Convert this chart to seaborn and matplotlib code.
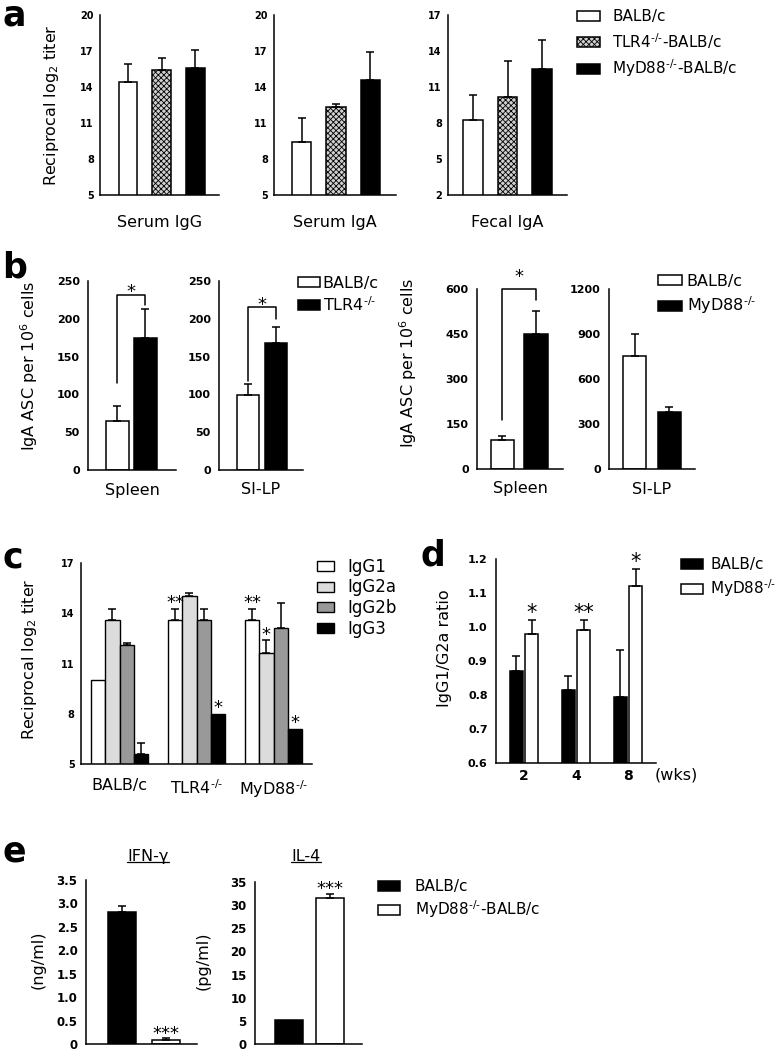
import numpy as np
import pandas as pd
import matplotlib
matplotlib.use("Agg")
import matplotlib.pyplot as plt
import seaborn as sns
from matplotlib.patches import Patch
from matplotlib.lines import Line2D
from matplotlib.transforms import IdentityTransform

# superindice "-/-" con guiones cortos
KO = "$^{\u2010/\u2010}$"

# ---------------- datos ----------------
# a: titulos (log2 reciproco), media y error
grupos_a = ["BALB/c", "TLR4", "MyD88"]
nombres_a = ["BALB/c", "TLR4" + KO + "-BALB/c", "MyD88" + KO + "-BALB/c"]
muestras_a = ["Serum IgG", "Serum IgA", "Fecal IgA"]
serum_igg_a = [14.45, 15.45, 15.6]
serum_iga_a = [9.4, 12.3, 14.6]
fecal_iga_a = [8.25, 10.2, 12.5]
err_serum_igg_a = [1.45, 1.0, 1.45]
err_serum_iga_a = [2.05, 0.3, 2.35]
err_fecal_iga_a = [2.1, 3.0, 2.45]
yticks_a1 = [5, 8, 11, 14, 17, 20]
yticks_a3 = [2, 5, 8, 11, 14, 17]

# b: IgA ASC por 10^6 celulas
grupos_b = ["BALB/c", "KO"]
organos_b = ["Spleen", "SI-LP", "Spleen", "SI-LP"]
spleen_tlr4 = [65, 175]
silp_tlr4 = [99, 168]
spleen_myd = [98, 449]
silp_myd = [751, 379]
err_spleen_tlr4 = [20, 38]
err_silp_tlr4 = [15, 21]
err_spleen_myd = [11, 78]
err_silp_myd = [149, 33]
yticks_b_tlr4 = [0, 50, 100, 150, 200, 250]
yticks_b_spleen_myd = [0, 150, 300, 450, 600]
yticks_b_silp_myd = [0, 300, 600, 900, 1200]
# corchetes: (nivel, pie izquierdo, pie derecho, altura del asterisco)
corchetes_b = [(232, 115, 218, 243), (215, 118, 200, 225), (599, 162, 563, 658), None]

# c: subclases IgG
cepas_c = ["BALB/c", "TLR4" + KO, "MyD88" + KO]
isotipos_c = ["IgG1", "IgG2a", "IgG2b", "IgG3"]
igg1_c = [10.0, 13.6, 13.6]
igg2a_c = [13.6, 15.05, 11.6]
igg2b_c = [12.1, 13.6, 13.1]
igg3_c = [5.6, 8.0, 7.1]
err_igg1_c = [0, 0.67, 0.67]
err_igg2a_c = [0.67, 0.13, 0.78]
err_igg2b_c = [0.12, 0.67, 1.5]
err_igg3_c = [0.68, 0, 0]
estrellas_c = [(1, 0, "**"), (1, 3, "*"), (2, 0, "**"), (2, 1, "*"), (2, 3, "*")]
yticks_c = [5, 8, 11, 14, 17]

# d: cociente IgG1/G2a
semanas_d = ["2", "4", "8"]
balb_d = [0.87, 0.815, 0.795]
myd_d = [0.98, 0.99, 1.12]
err_balb_d = [0.045, 0.04, 0.137]
err_myd_d = [0.04, 0.03, 0.05]
estrellas_d = ["*", "**", "*"]
yticks_d = [0.6, 0.7, 0.8, 0.9, 1.0, 1.1, 1.2]

# e: citoquinas
grupos_e = ["BALB/c", "MyD88"]
ifn_e = [2.82, 0.085]
il4_e = [5.25, 31.6]
err_ifn_e = [0.125, 0.035]
err_il4_e = [0.0, 0.9]
yticks_e1 = [0, 0.5, 1.0, 1.5, 2.0, 2.5, 3.0, 3.5]
ylabels_e1 = ["0", "0.5", "1.0", "1.5", "2.0", "2.5", "3.0", "3.5"]
yticks_e2 = [0, 5, 10, 15, 20, 25, 30, 35]

# ---------------- figura ----------------
sns.set_style("white")
plt.rcParams["font.family"] = ["DejaVu Sans"]
plt.rcParams["hatch.linewidth"] = 0.6
plt.rcParams["mathtext.fontset"] = "dejavusans"
for clave in ["text.color", "axes.labelcolor", "xtick.color", "ytick.color", "axes.edgecolor"]:
    plt.rcParams[clave] = "black"

W, H = 784, 1050
fig = plt.figure(figsize=(W / 100, H / 100), dpi=100)

GRIS_TLR4 = "#d0d0d0"
TRAMA = "xxxxxx"


def eje(x0, y0, x1, y1):
    return fig.add_axes([x0 / W, 1 - y1 / H, (x1 - x0) / W, (y1 - y0) / H])


def texto(x, y, s, **kw):
    return fig.text(x / W, 1 - y / H, s, **kw)


def formato(ax, yticks, ylabels, tam):
    ax.set_ylim(yticks[0], yticks[-1])
    ax.set_yticks(yticks)
    ax.set_yticklabels(ylabels, fontweight="bold", fontsize=tam)
    ax.set_xlabel("")
    ax.set_ylabel("")
    for lado in ["top", "right"]:
        ax.spines[lado].set_visible(False)
    for lado in ["left", "bottom"]:
        ax.spines[lado].set_linewidth(1.1)
        ax.spines[lado].set_color("black")
    ax.tick_params(axis="y", direction="out", length=3, width=1.1, pad=1.5, colors="black")
    ax.tick_params(axis="x", which="major", direction="out", length=3, width=1.1, colors="black")
    ax.set_facecolor("none")


def bordes_x(ax, xlim):
    ax.set_xlim(*xlim)
    ax.set_xticks(list(xlim))
    ax.set_xticklabels([])


def errores(ax, xs, medias, errs):
    xs = np.asarray(xs, float)
    medias = np.asarray(medias, float)
    errs = np.asarray(errs, float)
    m = errs > 0
    ax.errorbar(xs[m], medias[m], yerr=[np.zeros(m.sum()), errs[m]], fmt="none",
                ecolor="black", elinewidth=1.1, capsize=3, capthick=1.1, zorder=3)


def categoria(ax, s, abajo_px):
    ax.annotate(s, xy=(0.5, 0), xycoords="axes fraction", xytext=(0, -abajo_px * 0.72),
                textcoords="offset points", ha="center", va="center", fontsize=11.5)


def estrella(ax, x, y, s, tam, sube_px):
    ax.annotate(s, xy=(x, y), xytext=(0, sube_px * 0.72 - 0.57 * tam), textcoords="offset points",
                ha="center", va="baseline", fontsize=tam, annotation_clip=False)


def leyenda(handles, labels, x, y, tam, hl, hh, pad, sep):
    fig.legend(handles, labels, loc="upper left", bbox_to_anchor=(x / W, 1 - y / H),
               frameon=False, fontsize=tam, handlelength=hl, handleheight=hh,
               handletextpad=pad, labelspacing=sep, borderpad=0, borderaxespad=0)


# ---------------- a ----------------
colores_a = {"BALB/c": "white", "TLR4": GRIS_TLR4, "MyD88": "black"}
medias_a = [serum_igg_a, serum_iga_a, fecal_iga_a]
errs_a = [err_serum_igg_a, err_serum_iga_a, err_fecal_iga_a]
cajas_a = [(100, 219), (274, 396), (448, 567)]
xlims_a = [(-0.83, 2.70), (-0.80, 2.74), (-0.72, 2.72)]
for i in range(3):
    ax = eje(cajas_a[i][0], 15, cajas_a[i][1], 195)
    df = pd.DataFrame({"grupo": grupos_a, "valor": medias_a[i]})
    sns.barplot(data=df, x="grupo", y="valor", hue="grupo", order=grupos_a, hue_order=grupos_a,
                palette=colores_a, saturation=1, width=0.56, edgecolor="black", linewidth=1.1,
                errorbar=None, legend=False, ax=ax)
    for p in ax.patches:
        if abs(p.get_x() + p.get_width() / 2 - 1) < 0.01:
            p.set_hatch(TRAMA)
    errores(ax, range(3), medias_a[i], errs_a[i])
    yt = yticks_a3 if i == 2 else yticks_a1
    formato(ax, yt, [str(v) for v in yt], 7)
    bordes_x(ax, xlims_a[i])
    categoria(ax, muestras_a[i], 28)

texto(52, 105, r"Reciprocal log$_2$ titer", rotation=90, ha="center", va="center", fontsize=11.5)
h_a = [Patch(facecolor="white", edgecolor="black", linewidth=1.1),
       Patch(facecolor=GRIS_TLR4, edgecolor="black", linewidth=1.1, hatch=TRAMA),
       Patch(facecolor="black", edgecolor="black", linewidth=1.1)]
leyenda(h_a, nombres_a, 577, 9, 11, 1.5, 0.65, 0.8, 0.45)

# ---------------- b ----------------
colores_b = {"BALB/c": "white", "KO": "black"}
medias_b = [spleen_tlr4, silp_tlr4, spleen_myd, silp_myd]
errs_b = [err_spleen_tlr4, err_silp_tlr4, err_spleen_myd, err_silp_myd]
yticks_b = [yticks_b_tlr4, yticks_b_tlr4, yticks_b_spleen_myd, yticks_b_silp_myd]
cajas_b = [(88, 281, 176, 470), (219, 281, 303, 470), (477, 289, 563, 469), (609, 289, 695, 469)]
xlims_b = [(-1.05, 2.09), (-1.04, 1.96), (-0.76, 1.81), (-0.73, 1.73)]
anchos_b = [0.82, 0.8, 0.7, 0.67]
for i in range(4):
    ax = eje(*cajas_b[i])
    df = pd.DataFrame({"grupo": grupos_b, "valor": medias_b[i]})
    sns.barplot(data=df, x="grupo", y="valor", hue="grupo", order=grupos_b, hue_order=grupos_b,
                palette=colores_b, saturation=1, width=anchos_b[i], edgecolor="black", linewidth=1.1,
                errorbar=None, legend=False, ax=ax)
    errores(ax, range(2), medias_b[i], errs_b[i])
    formato(ax, yticks_b[i], [str(v) for v in yticks_b[i]], 8)
    ax.tick_params(axis="y", pad=3)
    bordes_x(ax, xlims_b[i])
    categoria(ax, organos_b[i], 20)
    if corchetes_b[i] is not None:
        nivel, izq, der, alto = corchetes_b[i]
        ax.plot([0, 0, 1, 1], [izq, nivel, nivel, der], color="black", lw=1.1, clip_on=False)
        estrella(ax, 0.5, alto, "*", 13, 0)

texto(29, 366, r"IgA ASC per 10$^6$ cells", rotation=90, ha="center", va="center", fontsize=11.5)
texto(408, 363, r"IgA ASC per 10$^6$ cells", rotation=90, ha="center", va="center", fontsize=11.5)
h_b = [Patch(facecolor="white", edgecolor="black", linewidth=1.1),
       Patch(facecolor="black", edgecolor="black", linewidth=1.1)]
leyenda(h_b, ["BALB/c", "TLR4" + KO], 298, 276, 11.5, 1.4, 0.6, 0.15, 0.25)
leyenda(h_b, ["BALB/c", "MyD88" + KO], 658, 274, 11.5, 1.5, 0.6, 0.3, 0.35)

# ---------------- c ----------------
colores_c = {"IgG1": "white", "IgG2a": "#dcdcdc", "IgG2b": "#999999", "IgG3": "black"}
valores_c = [igg1_c, igg2a_c, igg2b_c, igg3_c]
errs_c = [err_igg1_c, err_igg2a_c, err_igg2b_c, err_igg3_c]
filas = []
for iso, vals in zip(isotipos_c, valores_c):
    for cepa, v in zip(cepas_c, vals):
        filas.append({"cepa": cepa, "isotipo": iso, "valor": v})
df_c = pd.DataFrame(filas)

ax = eje(81, 563, 312, 764)
ancho_c = 0.745
sns.barplot(data=df_c, x="cepa", y="valor", hue="isotipo", order=cepas_c, hue_order=isotipos_c,
            palette=colores_c, saturation=1, width=ancho_c, edgecolor="black", linewidth=1.0,
            errorbar=None, legend=False, ax=ax)
paso_c = ancho_c / 4
for j in range(4):
    xs = np.arange(3) + (j - 1.5) * paso_c
    errores(ax, xs, valores_c[j], errs_c[j])
for k, j, s in estrellas_c:
    x = k + (j - 1.5) * paso_c
    estrella(ax, x, valores_c[j][k] + errs_c[j][k], s, 13, 11)
formato(ax, yticks_c, [str(v) for v in yticks_c], 7)
ax.set_xlim(-0.5, 2.5)
ax.set_xticks([-0.5, 0.5, 1.5, 2.5])
ax.set_xticklabels([])
ax.set_xticks([0, 1, 2], minor=True)
ax.set_xticklabels(cepas_c, minor=True, fontsize=11.5)
ax.tick_params(axis="x", which="minor", length=0, pad=10)
texto(30, 659, r"Reciprocal log$_2$ titer", rotation=90, ha="center", va="center", fontsize=11.5)
h_c = [Patch(facecolor=colores_c[k], edgecolor="black", linewidth=1.0) for k in isotipos_c]
leyenda(h_c, isotipos_c, 317, 558, 12, 1.0, 0.55, 0.85, 0.15)

# ---------------- d ----------------
filas = []
for cepa, vals in zip(["BALB/c", "MyD88"], [balb_d, myd_d]):
    for sem, v in zip(semanas_d, vals):
        filas.append({"semana": sem, "cepa": cepa, "valor": v})
df_d = pd.DataFrame(filas)

ax = eje(496, 559, 656, 763)
sns.barplot(data=df_d, x="semana", y="valor", hue="cepa", order=semanas_d,
            hue_order=["BALB/c", "MyD88"], palette={"BALB/c": "black", "MyD88": "white"},
            saturation=1, width=0.6, gap=0.15, edgecolor="black", linewidth=1.1,
            errorbar=None, legend=False, ax=ax)
errores(ax, np.arange(3) - 0.15, balb_d, err_balb_d)
errores(ax, np.arange(3) + 0.15, myd_d, err_myd_d)
for k, s in enumerate(estrellas_d):
    estrella(ax, k + 0.15, myd_d[k] + err_myd_d[k], s, 15, 13)
formato(ax, yticks_d, [f"{v:.1f}" for v in yticks_d], 8)
ax.tick_params(axis="y", pad=3)
ax.set_xlim(-0.54, 2.54)
ax.set_xticks([-0.54, 0.5, 1.5, 2.54])
ax.set_xticklabels([])
ax.set_xticks([0, 1, 2], minor=True)
ax.set_xticklabels(semanas_d, minor=True, fontsize=10, fontweight="bold")
ax.tick_params(axis="x", which="minor", length=0, pad=4)
texto(676, 775, "(wks)", ha="center", va="center", fontsize=11.5)
texto(445, 648, "IgG1/G2a ratio", rotation=90, ha="center", va="center", fontsize=11.5)
h_d = [Patch(facecolor="black", edgecolor="black", linewidth=1.1),
       Patch(facecolor="white", edgecolor="black", linewidth=1.1)]
leyenda(h_d, ["BALB/c", "MyD88" + KO], 681, 557, 11, 1.45, 0.65, 0.45, 0.35)

# ---------------- e ----------------
colores_e = {"BALB/c": "black", "MyD88": "white"}
paneles_e = [(ifn_e, err_ifn_e, (86, 880, 197, 1044), (-0.82, 1.70), 0.64, yticks_e1, ylabels_e1),
             (il4_e, err_il4_e, (255, 882, 362, 1044), (-0.83, 1.78), 0.68, yticks_e2,
              [str(v) for v in yticks_e2])]
for vals, errs, caja, xlim, ancho, yt, yl in paneles_e:
    ax = eje(*caja)
    df = pd.DataFrame({"grupo": grupos_e, "valor": vals})
    sns.barplot(data=df, x="grupo", y="valor", hue="grupo", order=grupos_e, hue_order=grupos_e,
                palette=colores_e, saturation=1, width=ancho, edgecolor="black", linewidth=1.1,
                errorbar=None, legend=False, ax=ax)
    errores(ax, range(2), vals, errs)
    estrella(ax, 1, vals[1] + errs[1], "***", 13, 10)
    formato(ax, yt, yl, 8.5)
    ax.tick_params(axis="y", pad=3)
    bordes_x(ax, xlim)

texto(38, 960, "(ng/ml)", rotation=90, ha="center", va="center", fontsize=11.5)
texto(203, 961, "(pg/ml)", rotation=90, ha="center", va="center", fontsize=11.5)
titulos_e = [texto(148, 861, "IFN-γ", ha="center", va="baseline", fontsize=11.5),
             texto(306, 861, "IL-4", ha="center", va="baseline", fontsize=11.5)]
leyenda(h_d, ["BALB/c", "MyD88" + KO + "-BALB/c"], 378, 879, 11, 1.45, 0.65, 0.95, 0.3)

# letras de panel
for letra, x, y in [("a", 2, 25), ("b", 2, 277), ("c", 2, 567), ("d", 420, 565), ("e", 2, 862)]:
    texto(x, y, letra, fontsize=25, fontweight="bold", va="baseline", ha="left")

# subrayado de los titulos de e
fig.canvas.draw()
for t in titulos_e:
    bb = t.get_window_extent()
    fig.add_artist(Line2D([bb.x0, bb.x1], [bb.y0 + 2.5, bb.y0 + 2.5], color="black", lw=0.9,
                          transform=IdentityTransform()))

fig.savefig("out.png", dpi=100)
